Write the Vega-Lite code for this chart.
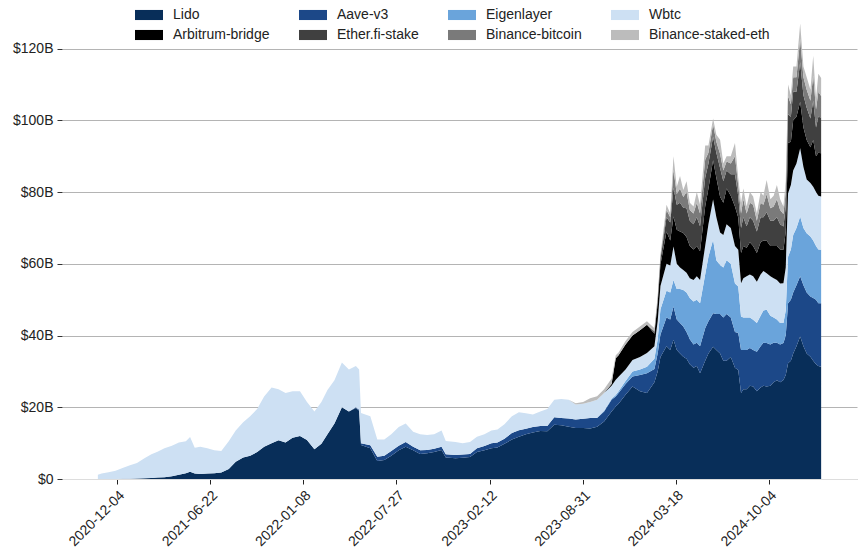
{
  "$schema": "https://vega.github.io/schema/vega-lite/v6.json",
  "width": 795,
  "height": 477,
  "autosize": {"type": "none"},
  "padding": {"left": 62, "top": 2, "right": 8, "bottom": 71},
  "config": {"font": "Liberation Sans", "view": {"stroke": null}},
  "datasets": {
    "names": [
      {"k": "lido", "series": "Lido", "rank": 1},
      {"k": "aave", "series": "Aave-v3", "rank": 2},
      {"k": "eig", "series": "Eigenlayer", "rank": 3},
      {"k": "wbtc", "series": "Wbtc", "rank": 4},
      {"k": "arb", "series": "Arbitrum-bridge", "rank": 5},
      {"k": "efi", "series": "Ether.fi-stake", "rank": 6},
      {"k": "bbtc", "series": "Binance-bitcoin", "rank": 7},
      {"k": "bseth", "series": "Binance-staked-eth", "rank": 8}
    ]
  },
  "data": {
    "values": [
      {"d": "2020-10-24", "lido": 0, "aave": 0, "eig": 0, "wbtc": 1.2, "arb": 0, "efi": 0, "bbtc": 0, "bseth": 0},
      {"d": "2020-11-01", "lido": 0, "aave": 0, "eig": 0, "wbtc": 1.5, "arb": 0, "efi": 0, "bbtc": 0, "bseth": 0},
      {"d": "2020-11-16", "lido": 0, "aave": 0, "eig": 0, "wbtc": 1.9, "arb": 0, "efi": 0, "bbtc": 0, "bseth": 0},
      {"d": "2020-12-01", "lido": 0.02, "aave": 0, "eig": 0, "wbtc": 2.3, "arb": 0, "efi": 0, "bbtc": 0, "bseth": 0},
      {"d": "2020-12-16", "lido": 0.05, "aave": 0, "eig": 0, "wbtc": 3.0, "arb": 0, "efi": 0, "bbtc": 0, "bseth": 0},
      {"d": "2021-01-01", "lido": 0.1, "aave": 0, "eig": 0, "wbtc": 3.7, "arb": 0, "efi": 0, "bbtc": 0, "bseth": 0},
      {"d": "2021-01-16", "lido": 0.15, "aave": 0, "eig": 0, "wbtc": 4.3, "arb": 0, "efi": 0, "bbtc": 0, "bseth": 0},
      {"d": "2021-02-01", "lido": 0.2, "aave": 0, "eig": 0, "wbtc": 5.6, "arb": 0, "efi": 0, "bbtc": 0, "bseth": 0},
      {"d": "2021-02-16", "lido": 0.3, "aave": 0, "eig": 0, "wbtc": 6.6, "arb": 0, "efi": 0, "bbtc": 0, "bseth": 0},
      {"d": "2021-03-01", "lido": 0.4, "aave": 0, "eig": 0, "wbtc": 7.2, "arb": 0, "efi": 0, "bbtc": 0, "bseth": 0},
      {"d": "2021-03-16", "lido": 0.5, "aave": 0, "eig": 0, "wbtc": 8.1, "arb": 0, "efi": 0, "bbtc": 0, "bseth": 0},
      {"d": "2021-04-01", "lido": 0.8, "aave": 0, "eig": 0, "wbtc": 8.5, "arb": 0, "efi": 0, "bbtc": 0, "bseth": 0},
      {"d": "2021-04-16", "lido": 1.2, "aave": 0, "eig": 0, "wbtc": 9.0, "arb": 0, "efi": 0, "bbtc": 0, "bseth": 0},
      {"d": "2021-05-01", "lido": 1.6, "aave": 0, "eig": 0, "wbtc": 8.9, "arb": 0, "efi": 0, "bbtc": 0, "bseth": 0},
      {"d": "2021-05-10", "lido": 2.0, "aave": 0, "eig": 0, "wbtc": 9.7, "arb": 0, "efi": 0, "bbtc": 0, "bseth": 0},
      {"d": "2021-05-20", "lido": 1.5, "aave": 0, "eig": 0, "wbtc": 7.2, "arb": 0, "efi": 0, "bbtc": 0, "bseth": 0},
      {"d": "2021-06-01", "lido": 1.4, "aave": 0, "eig": 0, "wbtc": 7.6, "arb": 0, "efi": 0, "bbtc": 0, "bseth": 0},
      {"d": "2021-06-16", "lido": 1.5, "aave": 0, "eig": 0, "wbtc": 7.1, "arb": 0, "efi": 0, "bbtc": 0, "bseth": 0},
      {"d": "2021-07-01", "lido": 1.6, "aave": 0, "eig": 0, "wbtc": 6.4, "arb": 0, "efi": 0, "bbtc": 0, "bseth": 0},
      {"d": "2021-07-16", "lido": 1.8, "aave": 0, "eig": 0, "wbtc": 6.0, "arb": 0, "efi": 0, "bbtc": 0, "bseth": 0},
      {"d": "2021-08-01", "lido": 2.8, "aave": 0, "eig": 0, "wbtc": 7.7, "arb": 0, "efi": 0, "bbtc": 0, "bseth": 0},
      {"d": "2021-08-16", "lido": 4.8, "aave": 0, "eig": 0, "wbtc": 8.7, "arb": 0, "efi": 0, "bbtc": 0, "bseth": 0},
      {"d": "2021-09-01", "lido": 6.0, "aave": 0, "eig": 0, "wbtc": 9.8, "arb": 0, "efi": 0, "bbtc": 0, "bseth": 0},
      {"d": "2021-09-16", "lido": 6.5, "aave": 0, "eig": 0, "wbtc": 11.0, "arb": 0, "efi": 0, "bbtc": 0, "bseth": 0},
      {"d": "2021-10-01", "lido": 7.5, "aave": 0, "eig": 0, "wbtc": 12.0, "arb": 0, "efi": 0, "bbtc": 0, "bseth": 0},
      {"d": "2021-10-16", "lido": 9.0, "aave": 0, "eig": 0, "wbtc": 14.0, "arb": 0, "efi": 0, "bbtc": 0, "bseth": 0},
      {"d": "2021-11-01", "lido": 10.0, "aave": 0, "eig": 0, "wbtc": 15.5, "arb": 0, "efi": 0, "bbtc": 0, "bseth": 0},
      {"d": "2021-11-16", "lido": 10.8, "aave": 0, "eig": 0, "wbtc": 14.2, "arb": 0, "efi": 0, "bbtc": 0, "bseth": 0},
      {"d": "2021-12-01", "lido": 10.2, "aave": 0, "eig": 0, "wbtc": 13.8, "arb": 0, "efi": 0, "bbtc": 0, "bseth": 0},
      {"d": "2021-12-16", "lido": 11.5, "aave": 0, "eig": 0, "wbtc": 13.0, "arb": 0, "efi": 0, "bbtc": 0, "bseth": 0},
      {"d": "2022-01-01", "lido": 12.0, "aave": 0, "eig": 0, "wbtc": 12.5, "arb": 0, "efi": 0, "bbtc": 0, "bseth": 0},
      {"d": "2022-01-16", "lido": 10.9, "aave": 0, "eig": 0, "wbtc": 10.6, "arb": 0, "efi": 0, "bbtc": 0, "bseth": 0},
      {"d": "2022-02-01", "lido": 8.3, "aave": 0, "eig": 0, "wbtc": 10.5, "arb": 0, "efi": 0, "bbtc": 0, "bseth": 0},
      {"d": "2022-02-16", "lido": 9.8, "aave": 0, "eig": 0, "wbtc": 11.7, "arb": 0, "efi": 0, "bbtc": 0, "bseth": 0},
      {"d": "2022-03-01", "lido": 12.5, "aave": 0, "eig": 0, "wbtc": 12.3, "arb": 0, "efi": 0, "bbtc": 0, "bseth": 0},
      {"d": "2022-03-16", "lido": 15.5, "aave": 0, "eig": 0, "wbtc": 12.0, "arb": 0, "efi": 0, "bbtc": 0, "bseth": 0},
      {"d": "2022-04-01", "lido": 20.0, "aave": 0, "eig": 0, "wbtc": 12.5, "arb": 0, "efi": 0, "bbtc": 0, "bseth": 0},
      {"d": "2022-04-16", "lido": 18.8, "aave": 0, "eig": 0, "wbtc": 11.7, "arb": 0, "efi": 0, "bbtc": 0, "bseth": 0},
      {"d": "2022-05-01", "lido": 19.8, "aave": 0.2, "eig": 0, "wbtc": 11.5, "arb": 0, "efi": 0, "bbtc": 0, "bseth": 0},
      {"d": "2022-05-08", "lido": 19.0, "aave": 0.3, "eig": 0, "wbtc": 11.2, "arb": 0, "efi": 0, "bbtc": 0, "bseth": 0},
      {"d": "2022-05-12", "lido": 9.5, "aave": 0.5, "eig": 0, "wbtc": 8.4, "arb": 0, "efi": 0, "bbtc": 0, "bseth": 0},
      {"d": "2022-06-01", "lido": 8.6, "aave": 0.8, "eig": 0, "wbtc": 8.1, "arb": 0, "efi": 0, "bbtc": 0, "bseth": 0},
      {"d": "2022-06-16", "lido": 5.0, "aave": 1.2, "eig": 0, "wbtc": 4.8, "arb": 0, "efi": 0, "bbtc": 0, "bseth": 0},
      {"d": "2022-07-01", "lido": 5.3, "aave": 1.2, "eig": 0, "wbtc": 4.5, "arb": 0, "efi": 0, "bbtc": 0, "bseth": 0},
      {"d": "2022-07-16", "lido": 6.5, "aave": 1.3, "eig": 0, "wbtc": 4.7, "arb": 0, "efi": 0, "bbtc": 0, "bseth": 0},
      {"d": "2022-08-01", "lido": 8.0, "aave": 1.3, "eig": 0, "wbtc": 5.2, "arb": 0, "efi": 0, "bbtc": 0, "bseth": 0},
      {"d": "2022-08-16", "lido": 9.0, "aave": 1.3, "eig": 0, "wbtc": 5.2, "arb": 0, "efi": 0, "bbtc": 0, "bseth": 0},
      {"d": "2022-09-01", "lido": 8.0, "aave": 1.0, "eig": 0, "wbtc": 4.2, "arb": 0, "efi": 0, "bbtc": 0, "bseth": 0},
      {"d": "2022-09-16", "lido": 7.0, "aave": 1.0, "eig": 0, "wbtc": 4.5, "arb": 0, "efi": 0, "bbtc": 0, "bseth": 0},
      {"d": "2022-10-01", "lido": 7.2, "aave": 0.9, "eig": 0, "wbtc": 4.2, "arb": 0, "efi": 0, "bbtc": 0, "bseth": 0},
      {"d": "2022-10-16", "lido": 7.5, "aave": 0.9, "eig": 0, "wbtc": 4.1, "arb": 0, "efi": 0, "bbtc": 0, "bseth": 0},
      {"d": "2022-11-01", "lido": 8.1, "aave": 0.9, "eig": 0, "wbtc": 4.5, "arb": 0, "efi": 0, "bbtc": 0, "bseth": 0},
      {"d": "2022-11-10", "lido": 6.0, "aave": 0.9, "eig": 0, "wbtc": 3.7, "arb": 0, "efi": 0, "bbtc": 0, "bseth": 0},
      {"d": "2022-12-01", "lido": 5.8, "aave": 0.9, "eig": 0, "wbtc": 3.6, "arb": 0, "efi": 0, "bbtc": 0, "bseth": 0},
      {"d": "2022-12-16", "lido": 5.9, "aave": 0.9, "eig": 0, "wbtc": 3.2, "arb": 0, "efi": 0, "bbtc": 0, "bseth": 0},
      {"d": "2023-01-01", "lido": 6.1, "aave": 0.9, "eig": 0, "wbtc": 3.3, "arb": 0, "efi": 0, "bbtc": 0, "bseth": 0},
      {"d": "2023-01-16", "lido": 7.5, "aave": 1.1, "eig": 0, "wbtc": 3.2, "arb": 0, "efi": 0, "bbtc": 0, "bseth": 0},
      {"d": "2023-02-01", "lido": 8.0, "aave": 1.2, "eig": 0, "wbtc": 3.3, "arb": 0, "efi": 0, "bbtc": 0, "bseth": 0},
      {"d": "2023-02-16", "lido": 8.6, "aave": 1.4, "eig": 0, "wbtc": 3.5, "arb": 0, "efi": 0, "bbtc": 0, "bseth": 0},
      {"d": "2023-03-01", "lido": 8.8, "aave": 1.4, "eig": 0, "wbtc": 3.6, "arb": 0, "efi": 0, "bbtc": 0, "bseth": 0},
      {"d": "2023-03-16", "lido": 9.8, "aave": 1.4, "eig": 0, "wbtc": 4.1, "arb": 0, "efi": 0, "bbtc": 0, "bseth": 0},
      {"d": "2023-04-01", "lido": 11.0, "aave": 1.8, "eig": 0, "wbtc": 4.7, "arb": 0, "efi": 0, "bbtc": 0, "bseth": 0},
      {"d": "2023-04-16", "lido": 11.8, "aave": 1.8, "eig": 0, "wbtc": 5.0, "arb": 0, "efi": 0, "bbtc": 0, "bseth": 0},
      {"d": "2023-05-01", "lido": 12.5, "aave": 1.5, "eig": 0, "wbtc": 4.3, "arb": 0, "efi": 0, "bbtc": 0, "bseth": 0},
      {"d": "2023-05-16", "lido": 13.0, "aave": 1.5, "eig": 0, "wbtc": 3.5, "arb": 0, "efi": 0, "bbtc": 0, "bseth": 0},
      {"d": "2023-06-01", "lido": 13.4, "aave": 1.4, "eig": 0, "wbtc": 4.0, "arb": 0, "efi": 0, "bbtc": 0, "bseth": 0},
      {"d": "2023-06-16", "lido": 13.3, "aave": 1.5, "eig": 0, "wbtc": 4.7, "arb": 0, "efi": 0, "bbtc": 0, "bseth": 0},
      {"d": "2023-07-01", "lido": 15.1, "aave": 2.1, "eig": 0, "wbtc": 4.9, "arb": 0, "efi": 0, "bbtc": 0, "bseth": 0},
      {"d": "2023-07-16", "lido": 15.0, "aave": 2.0, "eig": 0, "wbtc": 5.3, "arb": 0, "efi": 0, "bbtc": 0, "bseth": 0},
      {"d": "2023-08-01", "lido": 14.6, "aave": 2.3, "eig": 0, "wbtc": 5.2, "arb": 0, "efi": 0, "bbtc": 0, "bseth": 0},
      {"d": "2023-08-16", "lido": 14.2, "aave": 2.4, "eig": 0, "wbtc": 4.2, "arb": 0, "efi": 0, "bbtc": 0, "bseth": 0.3},
      {"d": "2023-09-01", "lido": 14.2, "aave": 2.6, "eig": 0, "wbtc": 4.2, "arb": 0, "efi": 0, "bbtc": 0, "bseth": 0.5},
      {"d": "2023-09-16", "lido": 14.1, "aave": 2.9, "eig": 0, "wbtc": 4.5, "arb": 0, "efi": 0, "bbtc": 0, "bseth": 1.0},
      {"d": "2023-10-01", "lido": 14.6, "aave": 2.4, "eig": 0.1, "wbtc": 5.0, "arb": 0, "efi": 0, "bbtc": 0, "bseth": 1.0},
      {"d": "2023-10-16", "lido": 16.0, "aave": 2.8, "eig": 0.2, "wbtc": 5.0, "arb": 0, "efi": 0, "bbtc": 0, "bseth": 1.0},
      {"d": "2023-11-01", "lido": 18.8, "aave": 3.3, "eig": 0.3, "wbtc": 3.6, "arb": 0.5, "efi": 0, "bbtc": 0, "bseth": 1.5},
      {"d": "2023-11-10", "lido": 20.2, "aave": 2.8, "eig": 0.4, "wbtc": 4.3, "arb": 6.0, "efi": 0, "bbtc": 0, "bseth": 0.8},
      {"d": "2023-11-16", "lido": 21.0, "aave": 3.0, "eig": 0.5, "wbtc": 4.0, "arb": 6.0, "efi": 0, "bbtc": 0, "bseth": 0.8},
      {"d": "2023-12-01", "lido": 23.5, "aave": 3.0, "eig": 0.8, "wbtc": 3.2, "arb": 7.0, "efi": 0, "bbtc": 0, "bseth": 1.0},
      {"d": "2023-12-16", "lido": 25.8, "aave": 2.8, "eig": 1.4, "wbtc": 3.2, "arb": 6.8, "efi": 0, "bbtc": 0, "bseth": 1.0},
      {"d": "2024-01-01", "lido": 24.5, "aave": 4.5, "eig": 1.5, "wbtc": 3.5, "arb": 7.5, "efi": 0, "bbtc": 0, "bseth": 1.0},
      {"d": "2024-01-16", "lido": 24.0, "aave": 5.5, "eig": 1.8, "wbtc": 3.8, "arb": 7.9, "efi": 0, "bbtc": 0, "bseth": 1.0},
      {"d": "2024-02-01", "lido": 27.0, "aave": 3.7, "eig": 2.8, "wbtc": 3.5, "arb": 3.5, "efi": 0.5, "bbtc": 0.3, "bseth": 0.7},
      {"d": "2024-02-08", "lido": 30.0, "aave": 5.0, "eig": 4.0, "wbtc": 5.0, "arb": 5.0, "efi": 1.0, "bbtc": 0.5, "bseth": 0.5},
      {"d": "2024-02-14", "lido": 34.0, "aave": 6.3, "eig": 7.0, "wbtc": 6.5, "arb": 6.0, "efi": 1.5, "bbtc": 0.7, "bseth": 0.5},
      {"d": "2024-02-27", "lido": 37.0, "aave": 8.0, "eig": 7.5, "wbtc": 7.5, "arb": 9.0, "efi": 4.0, "bbtc": 2.0, "bseth": 1.5},
      {"d": "2024-03-06", "lido": 36.0, "aave": 8.5, "eig": 7.5, "wbtc": 7.5, "arb": 7.0, "efi": 5.0, "bbtc": 1.5, "bseth": 1.0},
      {"d": "2024-03-13", "lido": 38.8, "aave": 9.3, "eig": 7.4, "wbtc": 9.3, "arb": 8.4, "efi": 8.0, "bbtc": 5.0, "bseth": 3.8},
      {"d": "2024-03-20", "lido": 36.0, "aave": 8.5, "eig": 8.5, "wbtc": 7.0, "arb": 9.5, "efi": 7.0, "bbtc": 3.0, "bseth": 2.0},
      {"d": "2024-03-27", "lido": 35.0, "aave": 8.5, "eig": 9.5, "wbtc": 6.0, "arb": 10.0, "efi": 8.0, "bbtc": 4.0, "bseth": 3.5},
      {"d": "2024-04-03", "lido": 34.1, "aave": 8.4, "eig": 10.2, "wbtc": 5.6, "arb": 10.3, "efi": 7.0, "bbtc": 3.0, "bseth": 2.0},
      {"d": "2024-04-10", "lido": 33.5, "aave": 7.5, "eig": 11.0, "wbtc": 5.5, "arb": 10.0, "efi": 8.0, "bbtc": 4.5, "bseth": 3.0},
      {"d": "2024-04-17", "lido": 32.0, "aave": 7.0, "eig": 11.5, "wbtc": 5.5, "arb": 9.0, "efi": 7.0, "bbtc": 3.0, "bseth": 2.0},
      {"d": "2024-04-25", "lido": 31.0, "aave": 6.5, "eig": 12.0, "wbtc": 6.0, "arb": 8.5, "efi": 7.0, "bbtc": 3.0, "bseth": 2.0},
      {"d": "2024-05-02", "lido": 31.5, "aave": 6.5, "eig": 12.0, "wbtc": 6.5, "arb": 8.5, "efi": 8.0, "bbtc": 4.0, "bseth": 3.0},
      {"d": "2024-05-09", "lido": 29.5, "aave": 7.5, "eig": 12.0, "wbtc": 6.5, "arb": 8.0, "efi": 7.0, "bbtc": 3.5, "bseth": 2.5},
      {"d": "2024-05-20", "lido": 33.0, "aave": 9.0, "eig": 15.0, "wbtc": 8.0, "arb": 11.0, "efi": 8.0, "bbtc": 5.0, "bseth": 4.0},
      {"d": "2024-05-27", "lido": 35.0, "aave": 9.0, "eig": 18.0, "wbtc": 9.0, "arb": 10.0, "efi": 7.0, "bbtc": 3.0, "bseth": 2.0},
      {"d": "2024-06-06", "lido": 36.9, "aave": 9.3, "eig": 20.5, "wbtc": 11.2, "arb": 11.0, "efi": 6.5, "bbtc": 3.5, "bseth": 1.6},
      {"d": "2024-06-13", "lido": 36.0, "aave": 10.0, "eig": 15.0, "wbtc": 12.0, "arb": 11.0, "efi": 7.0, "bbtc": 3.0, "bseth": 2.0},
      {"d": "2024-06-21", "lido": 35.0, "aave": 11.0, "eig": 13.7, "wbtc": 9.0, "arb": 10.0, "efi": 8.0, "bbtc": 4.0, "bseth": 3.9},
      {"d": "2024-06-28", "lido": 33.0, "aave": 12.0, "eig": 14.0, "wbtc": 9.0, "arb": 9.0, "efi": 6.0, "bbtc": 3.0, "bseth": 2.0},
      {"d": "2024-07-05", "lido": 33.0, "aave": 13.0, "eig": 15.0, "wbtc": 10.0, "arb": 10.0, "efi": 5.0, "bbtc": 2.5, "bseth": 1.5},
      {"d": "2024-07-14", "lido": 34.0, "aave": 11.0, "eig": 15.0, "wbtc": 10.0, "arb": 9.0, "efi": 6.0, "bbtc": 3.0, "bseth": 2.0},
      {"d": "2024-07-23", "lido": 31.0, "aave": 10.0, "eig": 13.5, "wbtc": 10.5, "arb": 11.0, "efi": 9.0, "bbtc": 5.0, "bseth": 3.7},
      {"d": "2024-07-30", "lido": 30.4, "aave": 10.3, "eig": 13.0, "wbtc": 10.2, "arb": 9.0, "efi": 6.0, "bbtc": 3.0, "bseth": 2.0},
      {"d": "2024-08-05", "lido": 24.0, "aave": 12.0, "eig": 9.3, "wbtc": 9.3, "arb": 8.4, "efi": 7.0, "bbtc": 4.0, "bseth": 3.0},
      {"d": "2024-08-10", "lido": 25.0, "aave": 11.0, "eig": 9.0, "wbtc": 11.0, "arb": 9.0, "efi": 8.0, "bbtc": 5.0, "bseth": 3.0},
      {"d": "2024-08-17", "lido": 25.0, "aave": 11.0, "eig": 9.0, "wbtc": 11.5, "arb": 8.0, "efi": 6.0, "bbtc": 3.5, "bseth": 2.0},
      {"d": "2024-08-24", "lido": 26.0, "aave": 10.5, "eig": 8.5, "wbtc": 12.0, "arb": 9.0, "efi": 7.0, "bbtc": 4.0, "bseth": 3.0},
      {"d": "2024-08-31", "lido": 25.8, "aave": 10.2, "eig": 8.4, "wbtc": 12.1, "arb": 8.5, "efi": 7.0, "bbtc": 4.5, "bseth": 2.3},
      {"d": "2024-09-08", "lido": 24.5, "aave": 11.0, "eig": 8.0, "wbtc": 11.5, "arb": 8.0, "efi": 6.0, "bbtc": 3.0, "bseth": 2.0},
      {"d": "2024-09-16", "lido": 25.5, "aave": 11.5, "eig": 8.5, "wbtc": 11.5, "arb": 9.0, "efi": 7.0, "bbtc": 4.0, "bseth": 3.0},
      {"d": "2024-09-22", "lido": 26.0, "aave": 12.0, "eig": 9.0, "wbtc": 11.0, "arb": 8.5, "efi": 6.5, "bbtc": 3.5, "bseth": 2.5},
      {"d": "2024-09-29", "lido": 25.8, "aave": 12.1, "eig": 9.3, "wbtc": 10.2, "arb": 9.0, "efi": 8.0, "bbtc": 5.0, "bseth": 4.0},
      {"d": "2024-10-07", "lido": 26.0, "aave": 11.5, "eig": 8.0, "wbtc": 11.0, "arb": 8.5, "efi": 7.0, "bbtc": 3.5, "bseth": 2.5},
      {"d": "2024-10-14", "lido": 27.0, "aave": 11.0, "eig": 7.0, "wbtc": 11.0, "arb": 9.0, "efi": 7.0, "bbtc": 4.0, "bseth": 3.0},
      {"d": "2024-10-21", "lido": 27.5, "aave": 10.5, "eig": 6.5, "wbtc": 11.0, "arb": 9.5, "efi": 8.0, "bbtc": 5.0, "bseth": 4.0},
      {"d": "2024-10-28", "lido": 27.0, "aave": 10.5, "eig": 6.0, "wbtc": 11.0, "arb": 9.5, "efi": 7.0, "bbtc": 4.0, "bseth": 3.0},
      {"d": "2024-11-04", "lido": 27.6, "aave": 10.3, "eig": 5.6, "wbtc": 11.1, "arb": 9.3, "efi": 6.5, "bbtc": 3.5, "bseth": 2.1},
      {"d": "2024-11-09", "lido": 29.0, "aave": 11.0, "eig": 7.0, "wbtc": 12.0, "arb": 10.0, "efi": 7.0, "bbtc": 4.0, "bseth": 3.0},
      {"d": "2024-11-14", "lido": 32.3, "aave": 16.7, "eig": 13.0, "wbtc": 17.7, "arb": 14.0, "efi": 8.0, "bbtc": 5.0, "bseth": 3.3},
      {"d": "2024-11-20", "lido": 33.0, "aave": 17.0, "eig": 14.0, "wbtc": 18.0, "arb": 12.0, "efi": 7.0, "bbtc": 3.5, "bseth": 2.5},
      {"d": "2024-11-25", "lido": 35.0, "aave": 17.0, "eig": 16.0, "wbtc": 18.0, "arb": 14.0, "efi": 8.0, "bbtc": 4.0, "bseth": 3.0},
      {"d": "2024-12-02", "lido": 37.0, "aave": 17.0, "eig": 16.0, "wbtc": 18.0, "arb": 13.0, "efi": 7.0, "bbtc": 4.0, "bseth": 3.0},
      {"d": "2024-12-10", "lido": 39.7, "aave": 16.8, "eig": 16.7, "wbtc": 19.0, "arb": 13.0, "efi": 11.0, "bbtc": 6.5, "bseth": 4.3},
      {"d": "2024-12-17", "lido": 37.0, "aave": 17.0, "eig": 16.0, "wbtc": 17.0, "arb": 11.0, "efi": 9.0, "bbtc": 5.0, "bseth": 3.0},
      {"d": "2024-12-24", "lido": 35.0, "aave": 17.0, "eig": 16.5, "wbtc": 15.0, "arb": 11.0, "efi": 9.0, "bbtc": 5.0, "bseth": 3.5},
      {"d": "2025-01-01", "lido": 34.1, "aave": 16.8, "eig": 16.7, "wbtc": 14.9, "arb": 10.0, "efi": 8.0, "bbtc": 5.0, "bseth": 3.0},
      {"d": "2025-01-07", "lido": 33.0, "aave": 17.5, "eig": 16.0, "wbtc": 15.0, "arb": 13.0, "efi": 11.0, "bbtc": 7.0, "bseth": 5.5},
      {"d": "2025-01-13", "lido": 32.0, "aave": 18.0, "eig": 15.0, "wbtc": 15.0, "arb": 10.0, "efi": 8.0, "bbtc": 5.0, "bseth": 3.0},
      {"d": "2025-01-18", "lido": 31.5, "aave": 17.5, "eig": 15.0, "wbtc": 15.0, "arb": 12.0, "efi": 10.0, "bbtc": 7.0, "bseth": 5.0},
      {"d": "2025-01-24", "lido": 31.3, "aave": 17.7, "eig": 14.9, "wbtc": 14.9, "arb": 12.0, "efi": 10.0, "bbtc": 6.0, "bseth": 5.0}
    ]
  },
  "transform": [
    {"fold": ["lido", "aave", "eig", "wbtc", "arb", "efi", "bbtc", "bseth"], "as": ["k", "value"]},
    {"lookup": "k", "from": {"data": {"name": "names"}, "key": "k", "fields": ["series", "rank"]}}
  ],
  "mark": {"type": "area", "interpolate": "linear"},
  "encoding": {
    "x": {
      "field": "d",
      "type": "temporal",
      "scale": {"type": "utc", "domain": [{"year": 2020, "month": 8, "date": 8, "utc": true}, {"year": 2025, "month": 4, "date": 11, "utc": true}]},
      "axis": {
        "title": null,
        "values": [
          {"year": 2020, "month": 12, "date": 4, "utc": true},
          {"year": 2021, "month": 6, "date": 22, "utc": true},
          {"year": 2022, "month": 1, "date": 8, "utc": true},
          {"year": 2022, "month": 7, "date": 27, "utc": true},
          {"year": 2023, "month": 2, "date": 12, "utc": true},
          {"year": 2023, "month": 8, "date": 31, "utc": true},
          {"year": 2024, "month": 3, "date": 18, "utc": true},
          {"year": 2024, "month": 10, "date": 4, "utc": true}
        ],
        "format": "%Y-%m-%d",
        "labelAngle": -45,
        "labelAlign": "right",
        "labelBaseline": "top",
        "labelFontSize": 14,
        "labelColor": "#222222",
        "labelPadding": 4,
        "grid": false,
        "domainColor": "#dddddd",
        "tickColor": "#222222",
        "tickSize": 5
      }
    },
    "y": {
      "field": "value",
      "type": "quantitative",
      "stack": "zero",
      "scale": {"domain": [0, 133], "nice": false},
      "axis": {
        "title": null,
        "values": [0, 20, 40, 60, 80, 100, 120],
        "labelExpr": "datum.value == 0 ? '$0' : '$' + datum.value + 'B'",
        "labelFontSize": 14,
        "labelColor": "#222222",
        "labelPadding": 4,
        "domain": false,
        "grid": true,
        "gridColor": "#b4b4b4",
        "gridWidth": 1,
        "tickColor": "#333333",
        "tickSize": 5
      }
    },
    "color": {
      "field": "series",
      "type": "nominal",
      "scale": {
        "domain": ["Lido", "Aave-v3", "Eigenlayer", "Wbtc", "Arbitrum-bridge", "Ether.fi-stake", "Binance-bitcoin", "Binance-staked-eth"],
        "range": ["#082e59", "#1c4888", "#6aa4db", "#cde0f3", "#000000", "#404040", "#7a7a7a", "#bcbcbc"]
      },
      "legend": {
        "title": null,
        "orient": "none",
        "legendX": 80,
        "legendY": 6,
        "direction": "horizontal",
        "columns": 4,
        "symbolType": "M-2,-0.72H2V0.72H-2Z",
        "symbolSize": 196,
        "symbolStrokeWidth": 0,
        "labelFontSize": 14,
        "labelColor": "#222222",
        "labelOffset": 17,
        "columnPadding": 29,
        "rowPadding": 6
      }
    },
    "order": {"field": "rank", "type": "quantitative", "sort": "ascending"}
  }
}
